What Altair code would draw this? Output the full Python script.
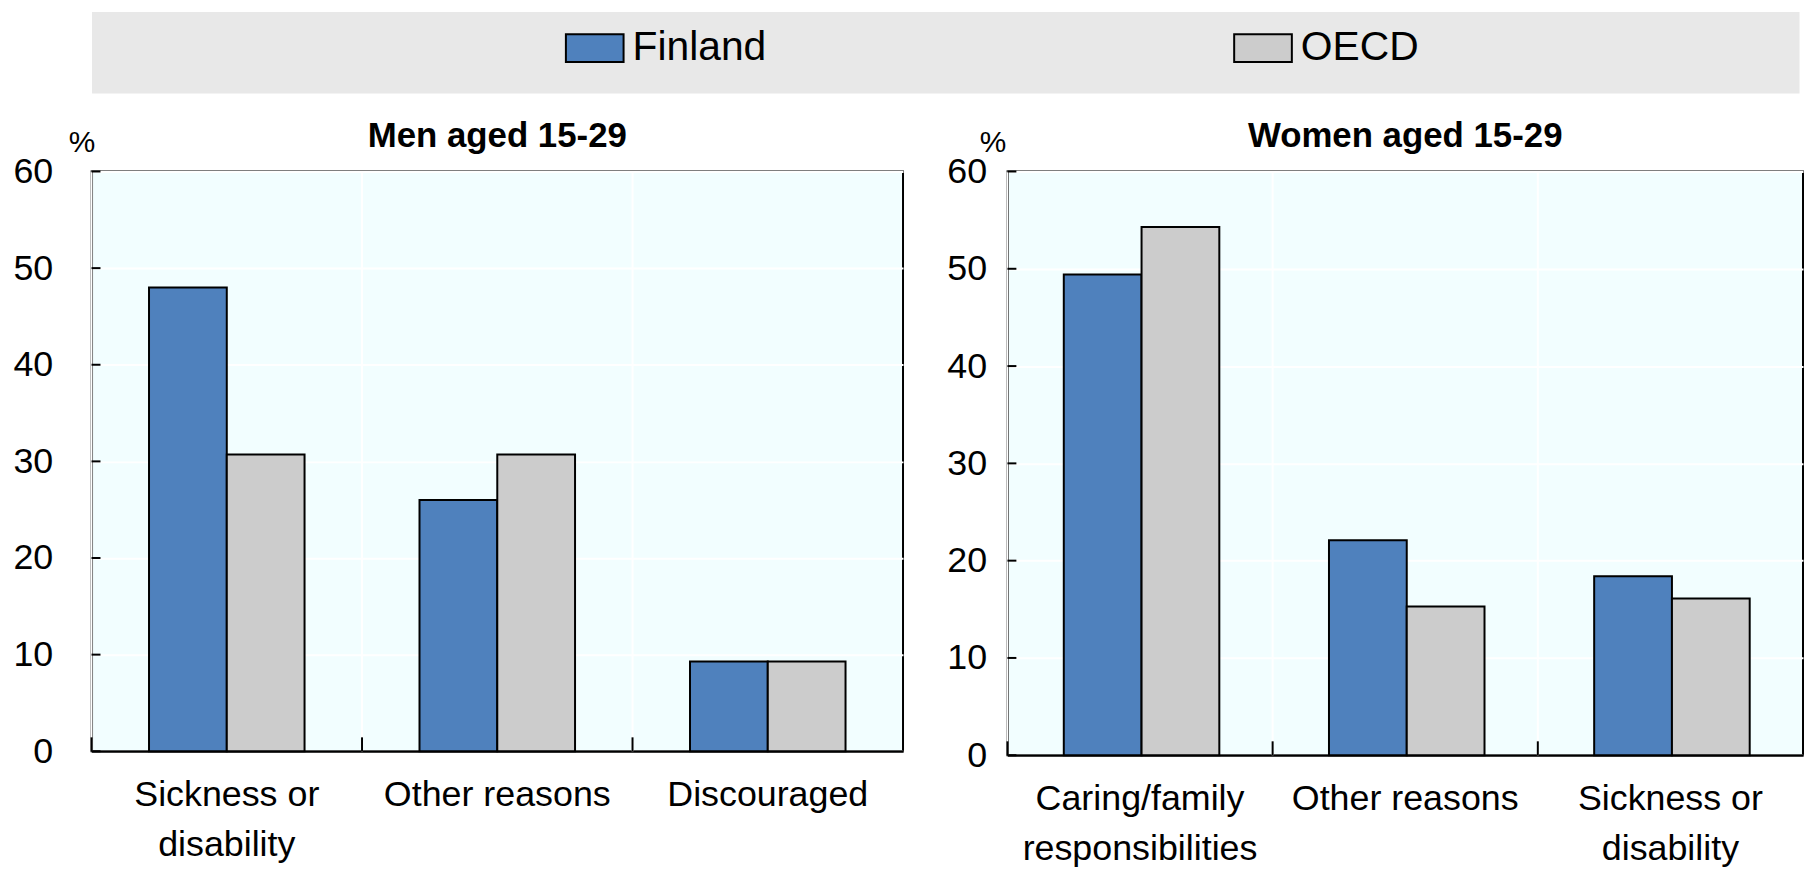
import altair as alt
import pandas as pd

# ---------------- data ----------------
series = ["Finland", "OECD"]
series_colors = ["#4F81BD", "#CCCCCC"]

men_cats = ["Sickness or\ndisability", "Other reasons", "Discouraged"]
men_finland = [48.0, 26.0, 9.3]
men_oecd = [30.7, 30.7, 9.3]

women_cats = ["Caring/family\nresponsibilities", "Other reasons", "Sickness or\ndisability"]
women_finland = [49.4, 22.1, 18.4]
women_oecd = [54.3, 15.3, 16.1]

y_ticks = [0, 10, 20, 30, 40, 50, 60]

FONT = "Liberation Sans, Arial, sans-serif"
PLOT_BG = "#F2FEFF"
LABEL_SIZE = 36


def long_df(cats, fin, oecd):
    rows = []
    for c, f, o in zip(cats, fin, oecd):
        rows.append({"cat": c, "series": series[0], "value": f})
        rows.append({"cat": c, "series": series[1], "value": o})
    return pd.DataFrame(rows)


legend = alt.Legend(
    title=None, orient="none", legendX=476, legendY=7, direction="horizontal",
    symbolType="M-1,-0.48H1V0.48H-1Z", symbolSize=3364,
    symbolStrokeColor="black", symbolStrokeWidth=2, symbolOpacity=1,
    labelFont=FONT, labelFontSize=41, labelColor="black", labelOffset=8,
    labelLimit=400, columnPadding=466,
)


def panel(title, cats, fin, oecd, width, height, label_pad, pct_x):
    df = long_df(cats, fin, oecd)
    catdf = pd.DataFrame({"cat": cats})
    tickdf = pd.DataFrame({"v": y_ticks})
    xscale = alt.Scale(domain=cats, paddingInner=0.425, paddingOuter=0.2125)
    xscale_full = alt.Scale(domain=cats, paddingInner=0, paddingOuter=0)
    yscale = alt.Scale(domain=[0, 60], nice=False)
    x_axis = alt.Axis(
        title=None, ticks=False, grid=False, domainColor="black", domainWidth=2,
        labelAngle=0, labelFontSize=LABEL_SIZE, labelFont=FONT, labelColor="black",
        labelPadding=27, labelLineHeight=50, labelLimit=500,
        labelExpr="split(datum.label, '\\n')",
    )
    y_axis = alt.Axis(
        values=y_ticks, title="%", titleAngle=0, titleX=pct_x, titleY=-29,
        titleAlign="center", titleBaseline="middle", titleFont=FONT,
        titleFontSize=30, titleFontWeight="normal", titleColor="black",
        ticks=False, grid=True, gridColor="white", gridWidth=2,
        domainColor="black", domainWidth=2, labelFontSize=LABEL_SIZE,
        labelPadding=label_pad, labelFont=FONT, labelColor="black",
    )
    grid_rules = alt.Chart(catdf).mark_rule(color="white", strokeWidth=2).encode(
        x=alt.X("cat:N", bandPosition=0, scale=xscale_full, axis=None, sort=cats),
        y=alt.value(0), y2=alt.value(height),
    )
    xticks = alt.Chart(catdf).mark_rule(color="black", strokeWidth=2).encode(
        x=alt.X("cat:N", bandPosition=0, scale=xscale_full, axis=None, sort=cats),
        y=alt.value(height - 14), y2=alt.value(height),
    )
    bars = alt.Chart(df).mark_bar(stroke="black", strokeWidth=2).encode(
        x=alt.X("cat:N", scale=xscale, axis=x_axis, sort=cats),
        xOffset=alt.XOffset("series:N", sort=series),
        y=alt.Y("value:Q", scale=yscale, axis=y_axis),
        color=alt.Color("series:N", scale=alt.Scale(domain=series, range=series_colors), legend=legend),
    )
    yticks = alt.Chart(tickdf).mark_rule(color="black", strokeWidth=2).encode(
        y=alt.Y("v:Q", scale=yscale, axis=y_axis),
        x=alt.value(0), x2=alt.value(9),
    )
    return alt.layer(grid_rules, bars, xticks, yticks).resolve_scale(x="independent").properties(
        width=width, height=height,
        title=alt.TitleParams(title, font=FONT, fontSize=35, fontWeight="bold",
                              anchor="middle", offset=-26, color="black"),
        view=alt.ViewBackground(fill=PLOT_BG, stroke="black", strokeWidth=2),
    )


left = panel("Men aged 15-29", men_cats, men_finland, men_oecd, 816, 583, 39, -10)
right = panel("Women aged 15-29", women_cats, women_finland, women_oecd, 800, 587, 21, -15)

strip = alt.Chart(pd.DataFrame({"v": [60]})).mark_point(opacity=0).encode(
    y=alt.Y("v:Q", scale=alt.Scale(domain=[0, 120]),
            axis=alt.Axis(values=[60], labelOpacity=0, ticks=False, domain=False,
                          grid=False, title=None, labelFontSize=LABEL_SIZE, labelFont=FONT,
                          labelPadding=39)),
).properties(
    width=1717, height=82,
    view=alt.ViewBackground(fill="#E8E8E8", stroke="transparent"),
)

panels = alt.hconcat(left, right, spacing=41).resolve_scale(color="shared")

chart = alt.vconcat(strip, panels, spacing=24).resolve_scale(
    color="shared", y="independent", x="independent"
).properties(
    padding={"left": 3, "top": 0, "right": 0, "bottom": 0},
    background="white",
)

chart.save("out.html", embed_options={"renderer": "svg", "actions": False})
